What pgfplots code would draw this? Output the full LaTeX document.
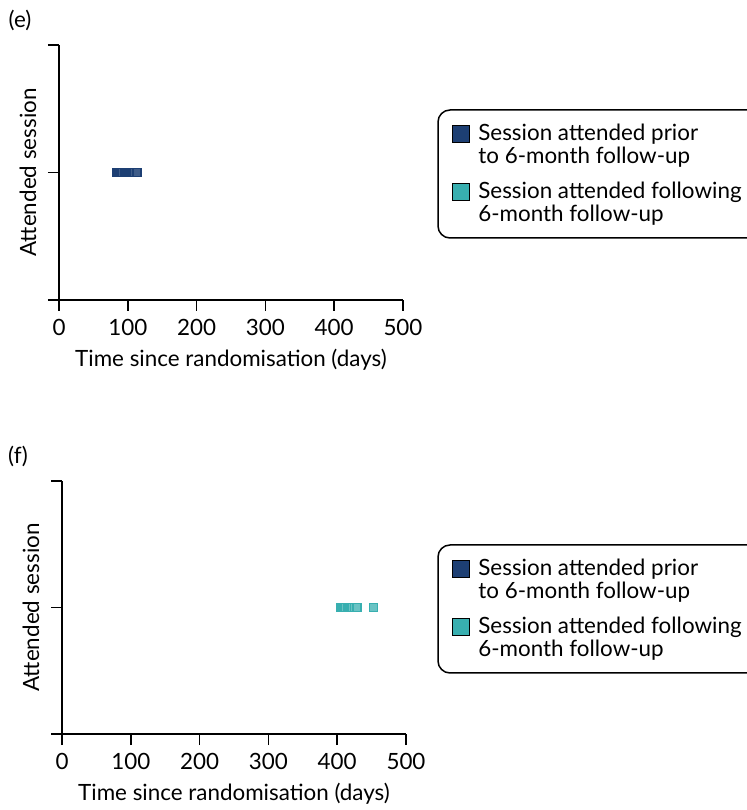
\documentclass[border=0pt]{standalone}
\usepackage{pgfplots}
\pgfplotsset{compat=1.18}
\usepackage{fontspec}
\setmainfont{Lato}
\definecolor{navyc}{HTML}{1D3F73}
\definecolor{tealc}{HTML}{38AFB0}

\pgfplotstableread{
x y
84 1
87 1
90 1
92 1
95 1
97 1
99 1
101 1
103 1
106 1
109 1
113 1
}\dataE

\pgfplotstableread{
x y
405 1
407 1
410 1
412 1
415 1
417 1
420 1
422 1
425 1
429 1
453 1
}\dataF

\pgfplotsset{
  panel/.style={
    width=172pt, scale only axis,
    xmin=0, xmax=500, ymin=0, ymax=2,
    axis lines*=left,
    axis line style={line width=0.8pt, -},
    tick align=outside,
    xtick={0,100,200,300,400,500},
    ytick={0,1,2}, yticklabels={},
    major tick length=5.5pt,
    major tick style={line width=0.8pt, black},
    /pgf/number format/assume math mode=true,
    xlabel={Time since randomisation (days)},
    ylabel={Attended session},
    xlabel style={at={(axis description cs:0.5,0)}, anchor=center, yshift=-30pt},
    ylabel style={at={(axis description cs:0,0.5)}, anchor=center, yshift=15.5pt},
    legend cell align=left,
    legend style={anchor=north west, draw=none, fill=none, inner sep=0pt,
      row sep=1pt, column sep=4pt,
      nodes={inner sep=0pt, text height=8pt, text depth=2.5pt},
      cells={anchor=west}},
  },
  navyleg/.style={legend image code/.code={\draw[fill=navyc, draw=black, line width=0.5pt] (0pt,-3.75pt) rectangle (8.5pt,4.75pt);}},
  tealleg/.style={legend image code/.code={\draw[fill=tealc, draw=black, line width=0.5pt] (0pt,-3.75pt) rectangle (8.5pt,4.75pt);}},
}

\begin{document}
\fontsize{11.2}{13.4}\selectfont
\begin{tikzpicture}[x=1pt,y=1pt]
\useasboundingbox (0,0) rectangle (373.5,405);
\clip (0,0) rectangle (373.5,405);

\node[anchor=center] at (10,395) {(e)};
\begin{axis}[panel, height=127.5pt, at={(29.5pt,255pt)}, anchor=south west,
  legend style={at={(axis description cs:1.1424,0.6902)}}]
\addplot[only marks, mark=square*, mark size=2pt, navyleg,
  mark options={draw=navyc, fill=navyc!85!white, line width=0.8pt}] table[x=x,y=y] {\dataE};
\addlegendentry{Session attended prior}
\addlegendimage{empty legend}
\addlegendentry[text depth=8.5pt]{to 6-month follow-up}
\addlegendimage{tealleg}
\addlegendentry{Session attended following}
\addlegendimage{empty legend}
\addlegendentry{6-month follow-up}
\end{axis}
\draw[rounded corners=6pt, line width=0.75pt] (219,286) rectangle (390,350);

\node[anchor=center] at (9,177) {(f)};
\begin{axis}[panel, height=126.5pt, at={(31pt,38pt)}, anchor=south west,
  legend style={at={(axis description cs:1.1337,0.6917)}}]
\addlegendimage{navyleg}
\addlegendentry{Session attended prior}
\addlegendimage{empty legend}
\addlegendentry[text depth=8.5pt]{to 6-month follow-up}
\addplot[only marks, mark=square*, mark size=2pt, tealleg,
  mark options={draw=tealc, fill=tealc!75!white, line width=0.8pt}] table[x=x,y=y] {\dataF};
\addlegendentry{Session attended following}
\addlegendimage{empty legend}
\addlegendentry{6-month follow-up}
\end{axis}
\draw[rounded corners=6pt, line width=0.75pt] (219,68.5) rectangle (390,132.5);
\end{tikzpicture}
\end{document}
